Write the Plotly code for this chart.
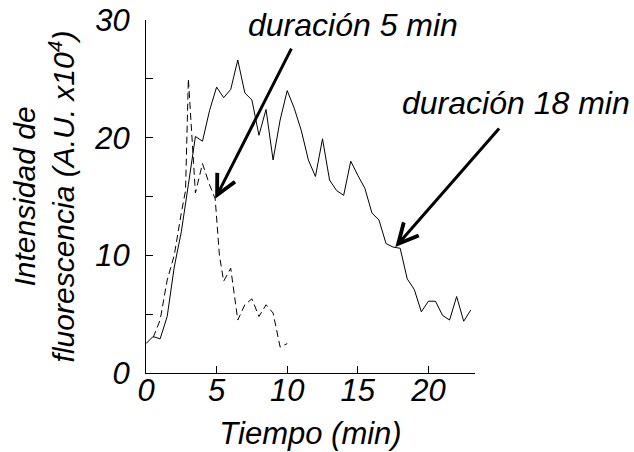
import plotly.graph_objects as go

# solid trace: longer pulse (duración 18 min)
t_long = [0, 0.5, 1, 1.5, 2, 2.5, 3, 3.5, 4, 4.5, 5, 5.5, 6, 6.5, 7, 7.5, 8, 8.5,
          9, 9.5, 10, 10.5, 11, 11.5, 12, 12.5, 13, 13.5, 14, 14.5, 15, 15.5, 16,
          16.5, 17, 17.5, 18, 18.5, 19, 19.5, 20, 20.5, 21, 21.5, 22, 22.5, 23]
i_long = [2.5, 3.1, 2.9, 4.8, 9.0, 12.0, 16.0, 20.1, 19.7, 22.3, 24.3, 23.4, 24.1,
          26.6, 23.8, 23.2, 20.2, 22.4, 18.1, 21.5, 24.0, 22.5, 20.6, 18.1, 16.7,
          19.9, 16.4, 15.5, 15.1, 18.0, 16.8, 15.7, 13.6, 13.0, 11.0, 10.7, 10.6,
          8.0, 7.1, 5.2, 6.1, 6.1, 4.9, 4.5, 6.5, 4.4, 5.35]

# dashed trace: short pulse (duración 5 min)
t_short = [0.5, 1.0, 1.5, 2.0, 2.5, 2.8, 3.0, 3.5, 4.0, 4.5, 4.9, 5.2, 5.5, 6.0,
           6.5, 7.0, 7.5, 8.0, 8.5, 9.0, 9.5, 10.0]
i_short = [3.0, 4.5, 7.9, 10.0, 13.6, 15.5, 25.0, 15.3, 17.8, 16.0, 14.8, 10.0,
           7.8, 8.9, 4.5, 5.8, 6.3, 4.8, 5.8, 5.1, 2.2, 2.5]

FONT = "Liberation Sans, Arial, sans-serif"


def font(size):
    return {"family": FONT, "size": size, "style": "italic", "color": "black"}


fig = go.Figure()
fig.add_trace(go.Scatter(x=t_long, y=i_long, mode="lines",
                         line={"color": "black", "width": 1}))
fig.add_trace(go.Scatter(x=t_short, y=i_short, mode="lines",
                         line={"color": "black", "width": 1, "dash": "7px,4px"}))

# arrows (tail given in data coords), labels placed separately
fig.add_annotation(x=4.9, y=14.8, ax=10.35, ay=27.7, axref="x", ayref="y",
                   text="", showarrow=True, arrowhead=5, arrowsize=1.3,
                   arrowwidth=3, arrowcolor="black")
fig.add_annotation(x=17.66, y=10.7, ax=25.1, ay=20.9, axref="x", ayref="y",
                   text="", showarrow=True, arrowhead=5, arrowsize=1.3,
                   arrowwidth=3, arrowcolor="black")
fig.add_annotation(x=0.629, y=0.986, xref="paper", yref="paper",
                   xanchor="center", yanchor="middle",
                   text="duración 5 min", showarrow=False, font=font(32))
fig.add_annotation(x=1.125, y=0.765, xref="paper", yref="paper",
                   xanchor="center", yanchor="middle",
                   text="duración 18 min", showarrow=False, font=font(32))

axis_common = dict(
    showline=True, linecolor="black", linewidth=1, showgrid=False, zeroline=False,
    ticks="inside", ticklen=7, tickcolor="black", automargin=False,
    ticklabeloverflow="allow", tickfont=font(31),
)
fig.update_xaxes(range=[0, 23.3], tick0=0, dtick=5, ticklabelstandoff=-10,
                 title={"text": "Tiempo (min)", "standoff": 15, "font": font(31)},
                 **axis_common)
fig.update_yaxes(range=[0, 30], tick0=0, dtick=10, ticklabelstandoff=9,
                 minor={"dtick": 5, "ticks": "inside", "ticklen": 7, "tickcolor": "black"},
                 title={"text": "Intensidad de<br>fluorescencia (A.U. x10<sup>4</sup>)",
                        "standoff": 10, "font": font(30)},
                 **axis_common)
fig.update_layout(
    width=634, height=452, showlegend=False,
    margin={"l": 146, "r": 159, "t": 20, "b": 79},
    paper_bgcolor="white", plot_bgcolor="white",
)
# drop the default 8px page margin so the figure fills the window
fig.write_html("out.html", config={"displayModeBar": False},
               post_script="document.body.style.margin = '0';")
